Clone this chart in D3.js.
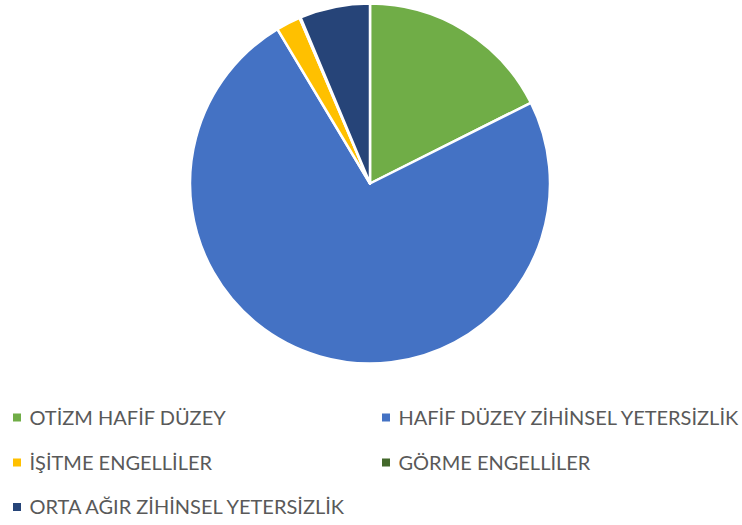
<html>
<head>
  <meta charset="UTF-8">
  <title>Pie</title>
  <script src="https://d3js.org/d3.v7.min.js"></script>
  <style>
    body { margin: 0; background: #fff; }
    text { font-family: Lato, "Open Sans", sans-serif; fill: #595959; }
  </style>
</head>
<body>
    <svg id="svg1" width="742" height="525"></svg>

    <script>

        // values (percent of the whole)
        const categories = ["OTİZM HAFİF DÜZEY", "HAFİF DÜZEY ZİHİNSEL YETERSİZLİK", "İŞİTME ENGELLİLER", "GÖRME ENGELLİLER", "ORTA AĞIR ZİHİNSEL YETERSİZLİK"];
        const values = [17.6, 73.8, 2.2, 0.1, 6.3];
        const colors = ["#70AD47", "#4472C4", "#FFC000", "#43682B", "#264478"];

        const svg1 = d3.select("#svg1");
        const cx = 370, cy = 183.5, radius = 180;

        const colorScale = d3.scaleOrdinal(categories, colors);

        const pie = d3.pie().sort(null).value(d => d.value);
        const arc = d3.arc().innerRadius(0).outerRadius(radius);

        const data = categories.map((c, i) => ({ name: c, value: values[i] }));

        const plot = svg1.append("g")
                        .attr("transform", `translate(${cx},${cy})`);

        plot.selectAll("path").data(pie(data)).join("path")
            .attr("d", arc)
            .attr("fill", d => colorScale(d.data.name))
            .attr("stroke", "#fff")
            .attr("stroke-width", 2.5)
            .attr("stroke-linejoin", "round");

        // legend
        const colX = [13, 382];
        const rowY = [417.5, 462.5, 507];
        const legend = svg1.selectAll("g.legend").data(categories).join("g")
            .attr("class", "legend")
            .attr("transform", (d, i) => `translate(${colX[i % 2]},${rowY[Math.floor(i / 2)]})`);

        legend.append("rect")
            .attr("x", 0).attr("y", -4)
            .attr("width", 8).attr("height", 8)
            .attr("fill", d => colorScale(d));

        legend.append("text")
            .attr("x", 16.5)
            .attr("dy", "0.36em")
            .style("font-size", "20px")
            .text(d => d);

    </script>
</body>
</html>
